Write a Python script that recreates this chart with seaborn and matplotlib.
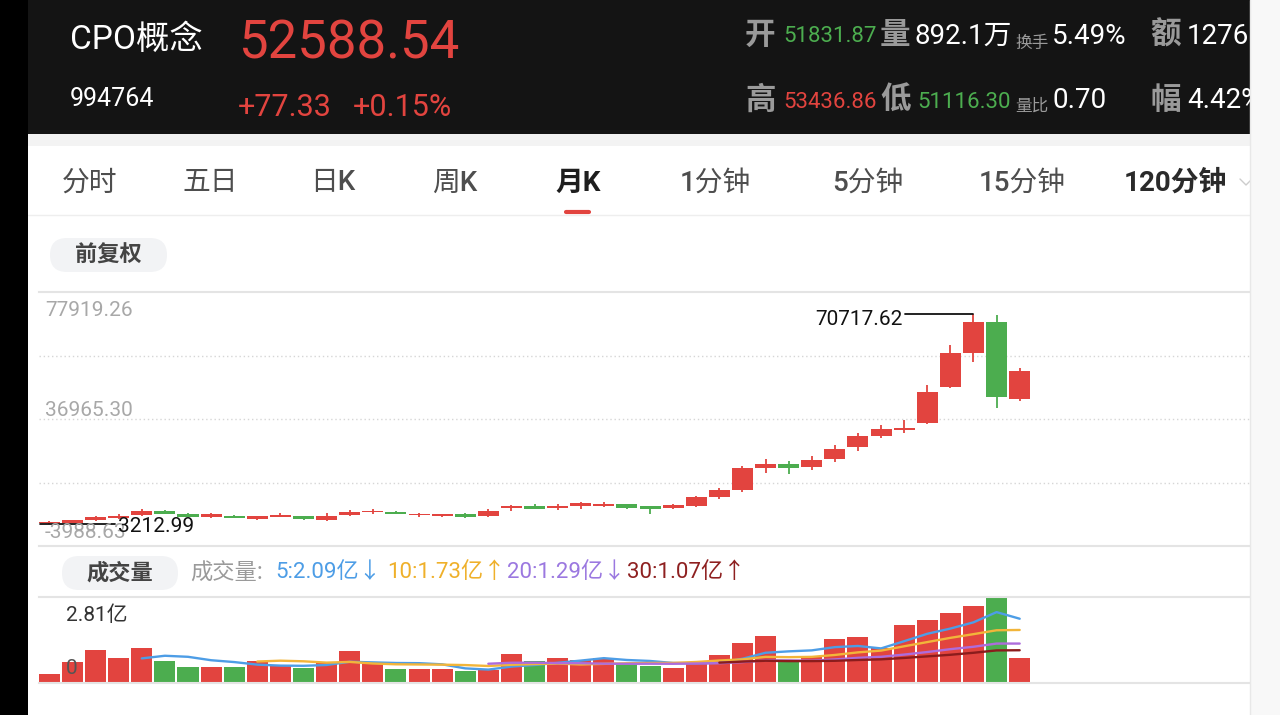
import numpy as np
import pandas as pd
import matplotlib
matplotlib.use('Agg')
import matplotlib.pyplot as plt
import seaborn as sns
from matplotlib.patches import Rectangle, FancyBboxPatch
from matplotlib.lines import Line2D

# monthly candles (CPO概念 994764)
opens = [3300, 3550, 4300, 5250, 5900, 7400, 6400, 5400, 5650, 4600,
         5450, 5600, 4400, 6000, 6900, 6900, 5900, 5800, 6300, 5700,
         8200, 9000, 8300, 8800, 9000, 9400, 8800, 8200, 9000, 11900,
         14070, 21200, 22500, 21400, 24200, 27900, 31600, 33400, 35580, 47400,
         58350, 68340, 43500]
highs = [4100, 4550, 5700, 6300, 7950, 7700, 6750, 6500, 5950, 5750,
         6500, 5800, 6700, 7700, 7950, 7150, 6700, 6400, 6500, 7900,
         9300, 9500, 9500, 10200, 10100, 9700, 8950, 9500, 12100, 14700,
         21900, 24100, 23300, 25000, 28700, 32400, 34900, 36600, 47900, 60700,
         70717.62, 70500, 53436.86]
lows = [3212.99, 3400, 4150, 4700, 5600, 6300, 5300, 5200, 5000, 4450,
        5250, 4500, 4000, 5800, 6250, 6200, 5450, 5500, 5150, 5400,
        7300, 7800, 7700, 8000, 8600, 8100, 6300, 7900, 8700, 11300,
        13500, 19600, 19200, 20600, 23200, 26600, 30700, 32600, 35200, 47100,
        55440, 40600, 42800]
closes = [3800, 4300, 5350, 5600, 7350, 6450, 5450, 6300, 5250, 5600,
          6100, 4700, 5700, 7100, 7400, 6350, 6400, 6250, 5300, 7200,
          9000, 7950, 8900, 9800, 9500, 8300, 8100, 9200, 11700, 14100,
          21180, 22500, 21200, 23700, 27300, 31500, 33900, 34100, 45770, 58150,
          68340, 43960, 52588.54]
# 成交量, 亿
volumes = [0.29, 0.69, 1.08, 0.82, 1.14, 0.72, 0.52, 0.52, 0.52, 0.72,
           0.56, 0.49, 0.65, 1.05, 0.62, 0.46, 0.46, 0.46, 0.39, 0.42,
           0.95, 0.72, 0.82, 0.75, 0.82, 0.65, 0.56, 0.49, 0.69, 0.91,
           1.31, 1.54, 0.72, 0.85, 1.44, 1.50, 1.14, 1.90, 2.06, 2.29,
           2.52, 2.81, 0.82]

price_top, price_bottom = 77919.26, -3988.63
price_labels = ['77919.26', '36965.30', '-3988.63']
vol_top = 2.81
ma_windows = [5, 10, 20, 30]
ma_labels = ['5:2.09亿↓', '10:1.73亿↑', '20:1.29亿↓', '30:1.07亿↑']

tabs = ['分时', '五日', '日K', '周K', '月K', '1分钟', '5分钟', '15分钟', '120分钟']
tab_x = [90, 210, 333, 455, 578, 715, 868, 1022, 1175]

RED = '#e2443f'
GREEN = '#4cad4f'
MA_COLORS = ['#4d9de6', '#f2b53a', '#ad6cdc', '#8b1c1c']
MA_TEXT = ['#4d9de6', '#efb02a', '#9b78e0', '#8e2020']

sns.set_theme(style='white')
plt.rcParams['font.family'] = ['Roboto', 'Noto Sans CJK SC', 'DejaVu Sans']

W, H = 1280, 715
fig = plt.figure(figsize=(12.8, 7.15), dpi=100, facecolor='white')
inch = fig.dpi_scale_trans


def P(x, y):
    return x / 100, (H - y) / 100


def txt(x, y, s, size, color, ha='left', weight='normal', family=None):
    kw = {}
    if family:
        kw['family'] = family
    fig.text(*P(x, y), s, transform=inch, fontsize=size, color=color,
             ha=ha, va='center', fontweight=weight, **kw)


def box(x0, y0, x1, y1, color, z=1):
    fig.add_artist(Rectangle(P(x0, y1), (x1 - x0) / 100, (y1 - y0) / 100,
                             transform=inch, fc=color, ec='none', zorder=z))


def hline(x0, x1, y, color, lw=1.0, z=2):
    fig.add_artist(Line2D([x0 / 100, x1 / 100], [(H - y) / 100] * 2,
                          transform=inch, color=color, lw=lw, zorder=z))


# header
box(0, 0, 1250, 134, '#141414')
box(28, 134, 1250, 146, '#f3f3f3')
CJK = ['Noto Sans CJK SC', 'DejaVu Sans']
txt(70, 40, 'CPO概念', 24, 'white')
txt(238, 44, '52588.54', 38, RED)
txt(70, 99, '994764', 18, 'white')
txt(238, 108, '+77.33', 22, RED)
txt(353, 108, '+0.15%', 22, RED)

GREY = '#9a9a9a'
txt(745, 35, '开', 22, GREY, weight='bold', family=CJK)
txt(783, 37, '51831.87', 16, GREEN)
txt(880, 35, '量', 22, GREY, weight='bold', family=CJK)
txt(915, 36, '892.1万', 20, 'white')
txt(1015, 43, '换手', 12, GREY, family=CJK)
txt(1052, 36, '5.49%', 20, 'white')
txt(1150, 35, '额', 22, GREY, weight='bold', family=CJK)
txt(1187, 36, '1276', 20, 'white')
txt(745, 100, '高', 22, GREY, weight='bold', family=CJK)
txt(783, 103, '53436.86', 16, RED)
txt(880, 100, '低', 22, GREY, weight='bold', family=CJK)
txt(917, 103, '51116.30', 16, GREEN)
txt(1015, 106, '量比', 12, GREY, family=CJK)
txt(1052, 101, '0.70', 20, 'white')
txt(1150, 100, '幅', 22, GREY, weight='bold', family=CJK)
txt(1187, 101, '4.42%', 20, 'white')

# period tabs
for t, x in zip(tabs, tab_x):
    if t == '月K':
        txt(x, 183, t, 20, '#1e1e1e', ha='center', weight='bold')
    elif t == '120分钟':
        txt(x, 183, t, 20, '#2a2a2a', ha='center', weight='bold')
    else:
        txt(x, 183, t, 20, '#4e4e4e', ha='center', weight='medium')
fig.add_artist(Line2D([5.66, 5.89], [(H - 212) / 100] * 2, transform=inch,
                      color=RED, lw=3, solid_capstyle='round'))
fig.add_artist(Line2D([12.40, 12.46, 12.52], [(H - 179) / 100, (H - 185) / 100, (H - 179) / 100],
                      transform=inch, color='#cccccc', lw=1))
hline(28, 1250, 215, '#eeeeee')

# pills
for (x0, y0, x1, y1, label) in [(50, 238, 167, 272, '前复权'), (62, 556, 178, 590, '成交量')]:
    fig.add_artist(FancyBboxPatch(P(x0, y1), (x1 - x0) / 100, (y1 - y0) / 100,
                                  boxstyle='round,pad=0,rounding_size=0.17',
                                  transform=inch, fc='#f2f3f5', ec='none', zorder=1))
    txt((x0 + x1) / 2, (y0 + y1) / 2, label, 16, '#444444', ha='center', weight='bold', family=CJK)

# data frame
df = pd.DataFrame({'open': opens, 'high': highs, 'low': lows, 'close': closes, 'vol': volumes})
df['idx'] = np.arange(len(df))
df['dir'] = np.where(df['close'] >= df['open'], 'up', 'down')
colors = df['dir'].map({'up': RED, 'down': GREEN}).tolist()
for n in ma_windows:
    df[f'ma{n}'] = df['vol'].rolling(n).mean()

xlim = (-0.45, 51.97)

# price panel
ax = fig.add_axes([39 / W, 1 - 546 / H, 1211 / W, 254 / H])
ax.set_facecolor('none')
mid = (df['open'] + df['close']) / 2
body_h = (df['close'] - df['open']).abs().clip(lower=550)
ax.vlines(df['idx'], df['low'], df['high'], colors=colors, lw=1.3, zorder=3)
ax.bar(df['idx'], body_h, bottom=mid - body_h / 2, width=0.91, color=colors, lw=0, zorder=4)
ax.set_xlim(*xlim)
ax.set_ylim(price_bottom, price_top)
step = (price_top - price_bottom) / 4
for k in (1, 2, 3):
    ax.axhline(price_top - k * step, color='#d6d6d6', lw=1, ls=(0, (1, 2)), zorder=1)
ytrans = ax.get_yaxis_transform()
for lab, yv, off in zip(price_labels, [price_top, price_top - 2 * step, price_bottom], [-19, 8, 13]):
    ax.annotate(lab, xy=(0, yv), xycoords=ytrans, xytext=(6, off), textcoords='offset pixels',
                ha='left', va='center', fontsize=15, color='#a8a8a8', zorder=6)

hi_i = int(df['high'].idxmax())
lo_i = int(df['low'].idxmin())
hi_v, lo_v = df['high'].max(), df['low'].min()
ax.plot([37.05, hi_i], [hi_v, hi_v], color='#111111', lw=1.3, zorder=5)
ax.annotate(f'{hi_v:.2f}', xy=(36.95, hi_v), xytext=(0, -5), textcoords='offset pixels',
            ha='right', va='center', fontsize=15, color='#111111', zorder=6)
ax.plot([lo_i - 0.4, 2.84], [lo_v, lo_v], color='#111111', lw=1.3, zorder=5)
ax.annotate(f'{lo_v:.2f}', xy=(2.95, lo_v), xytext=(0, -3), textcoords='offset pixels',
            ha='left', va='center', fontsize=15, color='#111111', zorder=7)

# volume panel
axv = fig.add_axes([39 / W, 1 - 683 / H, 1211 / W, 86 / H])
axv.set_facecolor('none')
sns.barplot(data=df, x='idx', y='vol', hue='dir', palette={'up': RED, 'down': GREEN},
            native_scale=True, width=0.91, dodge=False, errorbar=None, legend=False,
            saturation=1, linewidth=0, edgecolor='none', ax=axv)
for n, col in zip(ma_windows, MA_COLORS):
    sns.lineplot(data=df, x='idx', y=f'ma{n}', color=col, lw=1.7, ax=axv, zorder=5)
axv.set_xlim(*xlim)
axv.set_ylim(0, vol_top)

for a in (ax, axv):
    a.set_xticks([])
    a.set_yticks([])
    a.set_xlabel('')
    a.set_ylabel('')
    for s in ('left', 'right'):
        a.spines[s].set_visible(False)
    for s in ('top', 'bottom'):
        a.spines[s].set_color('#e4e4e4')
        a.spines[s].set_linewidth(1.5)
    a.grid(False)

txt(66, 615, '2.81亿', 15, '#333333')
txt(66, 668, '0', 15, '#555555')

# legend row of moving averages
txt(190, 573, '成交量:', 16, '#9a9a9a', family=CJK)
for lab, x, col in zip(ma_labels, [275, 387, 507, 627], MA_TEXT):
    txt(x, 573, lab, 16, col)

# side strips
box(0, 0, 28, 715, 'black', z=20)
box(1250, 0, 1280, 715, '#f8f8f8', z=20)
fig.add_artist(Line2D([12.5, 12.5], [0, 7.15], transform=inch, color='#e8e8e8', lw=1, zorder=21))

fig.savefig('out.png', dpi=100, facecolor=fig.get_facecolor())
